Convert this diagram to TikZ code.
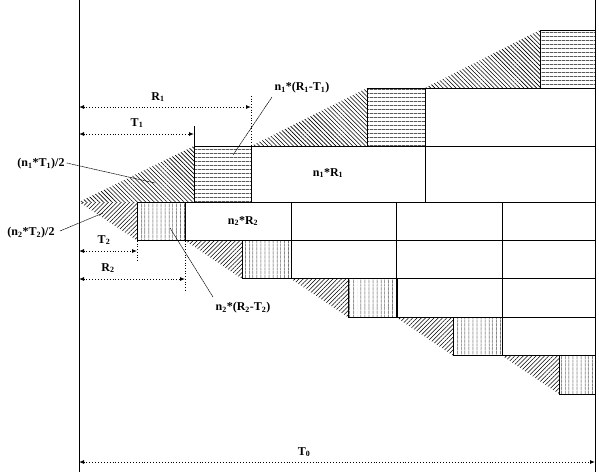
\documentclass[tikz,border=0pt]{standalone}
\usepackage{fontspec}
\setmainfont{Liberation Serif}
\usetikzlibrary{patterns.meta,arrows.meta}
\tikzset{
  edge/.style={draw=black,line width=0.8pt},
  hpat/.style={pattern={Lines[angle=0,distance=4pt,line width=0.8pt]}},
  vpat/.style={pattern={Lines[angle=90,distance=4pt,line width=0.8pt]}},
  upat/.style={pattern={Lines[angle=-45,distance=3pt,line width=0.6pt]}},
  dpat/.style={pattern={Lines[angle=45,distance=3pt,line width=0.6pt]}},
  dimline/.style={dotted,line width=0.9pt,{Latex[length=5pt,width=4pt]}-{Latex[length=5pt,width=4pt]}},
  extline/.style={dotted,line width=0.7pt},
  leader/.style={line width=0.5pt,dash pattern=on 2pt off 0.5pt},
  lbl/.style={font=\fontsize{12}{14}\selectfont\bfseries,inner sep=0pt}
}
\newcommand{\sbs}[1]{\textsubscript{#1}}
\begin{document}
\begin{tikzpicture}[x=1pt,y=-1pt]
\useasboundingbox (0,0) rectangle (599,472);
% axes
\draw[edge] (79,0) -- (79,472);
\draw[edge] (595,0) -- (595,472);
% upper group
\fill[upat] (79,202) -- (194,146) -- (194,202) -- cycle;
\fill[upat] (251,146) -- (367,88) -- (367,146) -- cycle;
\fill[upat] (425,88) -- (540,30) -- (540,88) -- cycle;
\filldraw[edge,hpat] (194,146) rectangle (251,202);
\filldraw[edge,hpat] (367,88) rectangle (425,146);
\filldraw[edge,hpat] (540,30) rectangle (595,88);
\draw[edge] (251,146) rectangle (425,202);
\draw[edge] (425,88) rectangle (595,146);
\draw[edge] (425,146) rectangle (595,202);
\draw[edge] (194,126) -- (194,146);
% lower group
\foreach \r/\xa in {0/79,1/185,2/291,3/396,4/502}{
  \pgfmathsetmacro{\ya}{202+38.4*\r}
  \pgfmathsetmacro{\yb}{202+38.4*(\r+1)}
  \pgfmathsetmacro{\xb}{\xa+(\r==0?58:57)}
  \pgfmathsetmacro{\xc}{\r==0?185:(\r==4?595:\xa+106)}
  \fill[dpat] (\xa,\ya) -- (\xb,\ya) -- (\xb,\yb) -- cycle;
  \filldraw[edge,vpat] (\xb,\ya) rectangle (\xc,\yb);
}
\foreach \r/\xs in {0/185,1/291,2/396,3/502}{
  \pgfmathsetmacro{\ya}{202+38.4*\r}
  \pgfmathsetmacro{\yb}{202+38.4*(\r+1)}
  \foreach \xa/\xb in {185/291,291/396,396/502,502/595}{
    \ifdim\xa pt<\xs pt\else
      \draw[edge] (\xa,\ya) rectangle (\xb,\yb);
    \fi
  }
}
% labels in boxes
\node[lbl] (nr1) at (328,173) {n\sbs{1}*R\sbs{1}};
\node[lbl] (nr2) at (243,221) {n\sbs{2}*R\sbs{2}};
% dimensions upper
\coordinate (o1) at (79,107); \coordinate (r1e) at (251,107);
\draw[dimline] (o1) -- (r1e);
\node[lbl] (lR1) at (158,97) {R\sbs{1}};
\draw[extline] (251,96) -- (251,146);
\coordinate (o2) at (79,134); \coordinate (t1e) at (194,134);
\draw[dimline] (o2) -- (t1e);
\node[lbl] (lT1) at (137,123) {T\sbs{1}};
\node[lbl] (ln1t1) at (41,164) {(n\sbs{1}*T\sbs{1})/2};
\coordinate (p1) at (155,183);
\draw[leader] (ln1t1.east) ++(2pt,1pt) -- (p1);
\node[lbl] (ln1rt) at (302,88) {n\sbs{1}*(R\sbs{1}-T\sbs{1})};
\coordinate (p2) at (233,155);
\draw[leader] (272,97) -- (p2);
% dimensions lower
\node[lbl] (ln2t2) at (31,233) {(n\sbs{2}*T\sbs{2})/2};
\coordinate (p3) at (103,213);
\draw[leader] (60,231) -- (p3);
\coordinate (o3) at (79,251); \coordinate (t2e) at (137,251);
\draw[dimline] (o3) -- (t2e);
\node[lbl] (lT2) at (104,240) {T\sbs{2}};
\draw[extline] (137,241) -- (137,262);
\coordinate (o4) at (79,279); \coordinate (r2e) at (185,279);
\draw[dimline] (o4) -- (r2e);
\node[lbl] (lR2) at (108,268) {R\sbs{2}};
\draw[extline] (185,241) -- (185,290);
\node[lbl] (ln2rt) at (243,308) {n\sbs{2}*(R\sbs{2}-T\sbs{2})};
\coordinate (p4) at (170,228);
\draw[leader] (213,297) -- (p4);
% T0
\coordinate (o5) at (79,462); \coordinate (t0e) at (595,462);
\draw[dimline] (o5) -- (t0e);
\node[lbl] (lT0) at (304,452) {T\sbs{0}};
\end{tikzpicture}
\end{document}
